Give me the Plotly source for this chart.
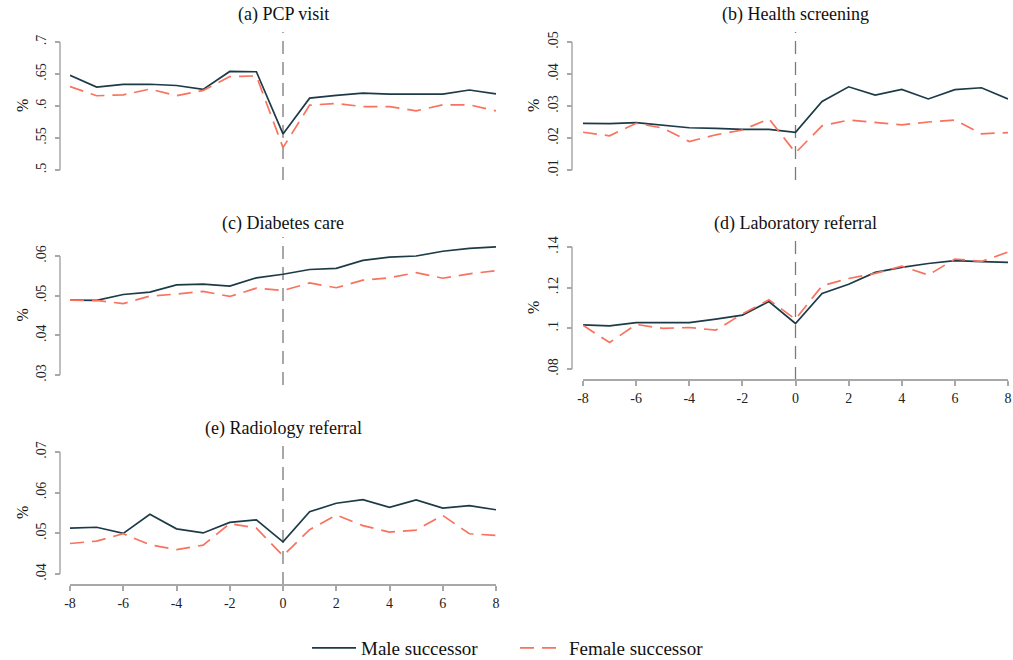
import plotly.graph_objects as go

W, H = 1013, 660

periods = list(range(-8, 9))

pcp_male = [.648, .6295, .6337, .634, .632, .626, .654, .6535, .5564, .6123, .6165, .620, .6185, .619, .6185, .625, .619]
pcp_female = [.6305, .616, .6175, .6264, .616, .6243, .646, .647, .535, .6013, .604, .599, .599, .5924, .6018, .6018, .5924]

screen_male = [.0246, .0245, .0248, .0240, .0232, .0230, .0227, .0227, .0218, .0314, .0360, .0334, .0352, .0322, .0351, .0357, .0322]
screen_female = [.0218, .0207, .0246, .0231, .0189, .0210, .0225, .0260, .0154, .0238, .0256, .0249, .0241, .0250, .0256, .0213, .0217]

diab_male = [.0489, .0488, .0503, .0509, .0527, .0529, .0524, .0545, .0554, .0566, .0569, .0589, .0597, .0600, .0612, .0619, .0623]
diab_female = [.0489, .0488, .0480, .0499, .0504, .0511, .0498, .0519, .0513, .0532, .0520, .0539, .0545, .0558, .0544, .0555, .0563]

lab_male = [.1017, .1012, .1028, .1028, .1028, .1045, .1065, .1132, .1024, .1171, .1217, .1275, .1300, .1319, .1333, .1328, .1324]
lab_female = [.1015, .0930, .1019, .1000, .1004, .0991, .1071, .1140, .1045, .1209, .1245, .1270, .1306, .1262, .1341, .1329, .1375]

rad_male = [.0513, .0515, .0500, .0547, .0511, .0501, .0527, .0533, .0479, .0553, .0574, .0583, .0564, .0582, .0562, .0568, .0558]
rad_female = [.0475, .0481, .0499, .0472, .0460, .0471, .0524, .0513, .0445, .0509, .0545, .0519, .0503, .0508, .0544, .0499, .0495]

titles = ["(a) PCP visit", "(b) Health screening", "(c) Diabetes care",
          "(d) Laboratory referral", "(e) Radiology referral"]

yticks_a = [.5, .55, .6, .65, .7]
ytext_a = [".5", ".55", ".6", ".65", ".7"]
yticks_b = [.01, .02, .03, .04, .05]
ytext_b = [".01", ".02", ".03", ".04", ".05"]
yticks_c = [.03, .04, .05, .06]
ytext_c = [".03", ".04", ".05", ".06"]
yticks_d = [.08, .1, .12, .14]
ytext_d = [".08", ".1", ".12", ".14"]
yticks_e = [.04, .05, .06, .07]
ytext_e = [".04", ".05", ".06", ".07"]

xticks = [-8, -6, -4, -2, 0, 2, 4, 6, 8]
xtext = ["-8", "-6", "-4", "-2", "0", "2", "4", "6", "8"]

series_names = ["Male successor", "Female successor"]

MALE_C = "#1d3b47"
FEMALE_C = "#f8725e"
AXIS_C = "#a8a8a8"
FONT = "Liberation Serif"


def px(x):
    return x / W


def py(y):
    return 1 - y / H


# pixel layout of each panel
panels = [
    dict(data=(pcp_male, pcp_female), yt=(yticks_a, ytext_a), ytop=None, yaxpx=60, pct=22, x0=70, x1=496, yt_px=42, yb_px=170, xax=None, ty=15, dt=32, db=180),
    dict(data=(screen_male, screen_female), yt=(yticks_b, ytext_b), ytop=None, yaxpx=572, pct=533, x0=583, x1=1008, yt_px=42, yb_px=170, xax=None, ty=15, dt=32, db=180),
    dict(data=(diab_male, diab_female), yt=(yticks_c, ytext_c), ytop=.0635, yaxpx=60, pct=22, x0=70, x1=496, yt_px=256, yb_px=375, xax=None, ty=224, dt=237, db=385),
    dict(data=(lab_male, lab_female), yt=(yticks_d, ytext_d), ytop=None, yaxpx=572, pct=533, x0=583, x1=1008, yt_px=247, yb_px=369, xax=380, ty=224, dt=238, db=380),
    dict(data=(rad_male, rad_female), yt=(yticks_e, ytext_e), ytop=None, yaxpx=60, pct=22, x0=70, x1=496, yt_px=452, yb_px=574, xax=585, ty=428, dt=443, db=585),
]

fig = go.Figure()
layout = dict()
annotations = []
shapes = []

for i, p in enumerate(panels):
    k = "" if i == 0 else str(i + 1)
    xa, ya = "x" + k, "y" + k
    male, female = p["data"]
    fig.add_trace(go.Scatter(x=periods, y=male, mode="lines", name=series_names[0],
                             line=dict(color=MALE_C, width=1.7), xaxis=xa, yaxis=ya,
                             showlegend=(i == 0), legendrank=1))
    fig.add_trace(go.Scatter(x=periods, y=female, mode="lines", name=series_names[1],
                             line=dict(color=FEMALE_C, width=1.7, dash="14px,8px"), xaxis=xa, yaxis=ya,
                             showlegend=(i == 0), legendrank=2))
    tv, tt = p["yt"]
    ppu = (p["yb_px"] - p["yt_px"]) / (tv[-1] - tv[0])
    ytop = tv[-1] if p["ytop"] is None else p["ytop"]
    top_px = p["yb_px"] - (ytop - tv[0]) * ppu
    ydom = [py(p["yb_px"]), py(top_px)]
    xdom = [px(p["x0"]), px(p["x1"])]
    xaxis = dict(domain=xdom, range=[-8, 8], showgrid=False, zeroline=False, fixedrange=True)
    if p["xax"] is None:
        xaxis.update(visible=False, anchor=ya)
    else:
        xaxis.update(anchor="free", position=py(p["xax"]), showline=True, linecolor=AXIS_C, linewidth=1.5,
                     ticks="outside", ticklen=5, tickcolor=AXIS_C, tickwidth=1.5,
                     ticklabeloverflow="allow",
                     tickvals=xticks, ticktext=xtext, tickfont=dict(family=FONT, size=14, color="#222"))
    yaxis = dict(domain=ydom, range=[tv[0], ytop], anchor="free", position=px(p["yaxpx"]),
                 showgrid=False, zeroline=False, showline=False, fixedrange=True,
                 ticks="outside", ticklen=5, tickcolor=AXIS_C, tickwidth=1.5,
                 tickvals=tv, ticktext=tt, tickangle=-90, ticklabelstandoff=3,
                 ticklabeloverflow="allow",
                 tickfont=dict(family=FONT, size=14, color="#222"))
    layout["xaxis" + k] = xaxis
    layout["yaxis" + k] = yaxis
    # y axis line spanning the tick range only
    shapes.append(dict(type="line", xref="paper", yref=ya, x0=px(p["yaxpx"]), x1=px(p["yaxpx"]),
                       y0=tv[0], y1=tv[-1], line=dict(color=AXIS_C, width=1.5)))
    hdom = p["yb_px"] - top_px
    shapes.append(dict(type="line", xref=xa, yref=ya + " domain", x0=0, x1=0,
                       y0=-(p["db"] - p["yb_px"]) / hdom, y1=1 + (top_px - p["dt"]) / hdom,
                       line=dict(color="#7a7a7a", width=1.3, dash="13px,8px"), layer="below"))
    annotations.append(dict(text=titles[i], xref=xa, x=0, yref="paper", y=py(p["ty"]),
                            xanchor="center", yanchor="middle", showarrow=False,
                            font=dict(family=FONT, size=18, color="#111")))
    annotations.append(dict(text="%", xref="paper", x=px(p["pct"]), yref="paper",
                            y=py((p["yt_px"] + p["yb_px"]) / 2), textangle=-90, xanchor="center", yanchor="middle",
                            showarrow=False, font=dict(family=FONT, size=16, color="#111")))

fig.update_layout(**layout)
fig.update_layout(
    width=W, height=H,
    margin=dict(l=0, r=0, t=0, b=0, autoexpand=False),
    paper_bgcolor="white", plot_bgcolor="white",
    annotations=annotations, shapes=shapes,
    showlegend=True,
    legend=dict(orientation="h", x=px(307), xanchor="left", y=py(648), yanchor="middle",
                font=dict(family=FONT, size=19, color="#111"), itemwidth=44,
                tracegroupgap=0, entrywidth=149),
)

fig.write_html("out.html", config={"displayModeBar": False},
               post_script="document.body.style.margin='0px';document.documentElement.style.overflow='hidden';")
